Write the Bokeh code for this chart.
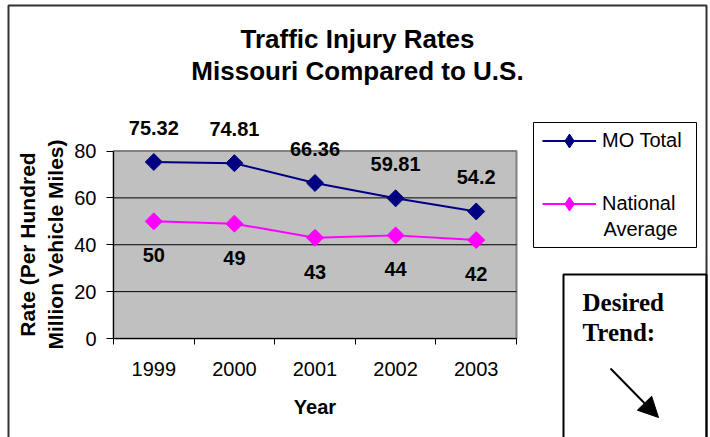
import numpy as np
from bokeh.plotting import figure
from bokeh.models import (ColumnDataSource, FixedTicker, Range1d, Legend, LegendItem,
                          LabelSet, Label, BoxAnnotation, Arrow, NormalHead)
from bokeh.core.properties import value
from bokeh.embed import file_html
from bokeh.resources import INLINE

# ---- data ----
years = ["1999", "2000", "2001", "2002", "2003"]
mo_total = [75.32, 74.81, 66.36, 59.81, 54.2]
national = [50, 49, 43, 44, 42]
y_ticks = [0, 20, 40, 60, 80]

SANS = "Liberation Sans"
SERIF = "Liberation Serif"
NAVY = "#000080"
MAGENTA = "#FF00FF"

# ---- layout geometry (canvas pixels) ----
W, H = 710, 437
PL, PR, PT, PB = 113, 516, 150.5, 338     # plot-area edges
n = len(years)
ymax = y_ticks[-1]
xs = (PR - PL) / n
ys = (PB - PT) / ymax

pos = [i + 0.5 for i in range(n)]
src = ColumnDataSource(dict(
    x=pos, mo=mo_total, nat=national,
    mo_txt=[f"{v:g}" for v in mo_total],
    nat_txt=[f"{v:g}" for v in national],
))

p = figure(width=W, height=H, output_backend="svg", toolbar_location=None,
           x_range=Range1d(-PL / xs, (W - PL) / xs),
           y_range=Range1d(-(H - PB) / ys, PB / ys),
           min_border=0, background_fill_color="white", border_fill_color="white",
           outline_line_color=None)

# plot area background
p.add_layout(BoxAnnotation(left=0, right=n, bottom=0, top=ymax, level="image",
                           fill_color="#C0C0C0", fill_alpha=1,
                           line_color="#808080", line_alpha=1, line_width=2))
p.xgrid.visible = False
p.ygrid.visible = False
grid_y = y_ticks[1:-1]
p.segment(x0=[0] * len(grid_y), x1=[n] * len(grid_y), y0=grid_y, y1=grid_y,
          line_color="black", line_width=1)

# x axis: labels at category centres, tick marks between categories
xa = p.xaxis[0]
xa.fixed_location = 0
xa.bounds = (0, n)
xa.ticker = FixedTicker(ticks=pos, minor_ticks=list(range(n + 1)))
xa.major_label_overrides = {pp: y for pp, y in zip(pos, years)}
xa.major_tick_out = 0
xa.major_tick_in = 0
xa.minor_tick_out = 6
xa.minor_tick_in = 0
xa.minor_tick_line_color = "black"
xa.axis_line_color = "black"
xa.major_label_text_font = SANS
xa.major_label_text_font_size = "20px"
xa.major_label_text_color = "black"
xa.major_label_standoff = 17
xa.axis_label = "Year"
xa.axis_label_text_font = SANS
xa.axis_label_text_font_size = "20px"
xa.axis_label_text_font_style = "bold"
xa.axis_label_text_color = "black"
xa.axis_label_standoff = 17

ya = p.yaxis[0]
ya.fixed_location = 0
ya.bounds = (0, ymax)
ya.ticker = FixedTicker(ticks=y_ticks)
ya.major_tick_out = 7
ya.major_tick_in = 0
ya.minor_tick_out = 0
ya.minor_tick_in = 0
ya.major_tick_line_color = "black"
ya.axis_line_color = "black"
ya.major_label_text_font = SANS
ya.major_label_text_font_size = "20px"
ya.major_label_text_color = "black"
ya.major_label_standoff = 10

# series
l1 = p.line("x", "mo", source=src, line_color=NAVY, line_width=2)
p.scatter("x", "mo", source=src, marker="square", angle=np.pi / 4, size=12,
          fill_color=NAVY, line_color=NAVY)
l2 = p.line("x", "nat", source=src, line_color=MAGENTA, line_width=2)
p.scatter("x", "nat", source=src, marker="square", angle=np.pi / 4, size=12,
          fill_color=MAGENTA, line_color=MAGENTA)
# legend-only diamond swatches (hidden in the plot)
d1 = p.scatter("x", "mo", source=src, marker="diamond", size=14,
               fill_color=NAVY, line_color=NAVY, visible=False)
d2 = p.scatter("x", "nat", source=src, marker="diamond", size=14,
               fill_color=MAGENTA, line_color=MAGENTA, visible=False)

# data labels
p.add_layout(LabelSet(x="x", y="mo", text="mo_txt", source=src, y_offset=34,
                      text_align="center", text_baseline="middle",
                      text_font=value(SANS), text_font_size="20px",
                      text_font_style="bold", text_color="black"))
p.add_layout(LabelSet(x="x", y="nat", text="nat_txt", source=src, y_offset=-34,
                      text_align="center", text_baseline="middle",
                      text_font=value(SANS), text_font_size="20px",
                      text_font_style="bold", text_color="black"))

# legend frame, then legend
p.add_layout(BoxAnnotation(left=533, right=696, top=122, bottom=247,
                           left_units="canvas", right_units="canvas",
                           top_units="canvas", bottom_units="canvas",
                           fill_color="white", fill_alpha=1,
                           line_color="black", line_alpha=1, line_width=1))
legend = Legend(items=[LegendItem(label="MO Total", renderers=[l1, d1]),
                       LegendItem(label="National", renderers=[l2, d2])],
                location=(542, H - 220.5), border_line_color=None,
                background_fill_alpha=0,
                padding=10, spacing=28, margin=0, glyph_width=54, glyph_height=35,
                label_standoff=6, label_text_font=SANS, label_text_font_size="20px",
                label_text_color="black")
p.add_layout(legend)

# texts (canvas pixels)
def txt(x, y, t, size, font=SANS, angle=0.0, align="center", style="bold"):
    p.add_layout(Label(x=x, y=y, x_units="canvas", y_units="canvas", text=t,
                       text_align=align, text_baseline="middle", angle=angle,
                       text_font=font, text_font_size=size,
                       text_font_style=style, text_color="black"))

txt(603, 228, "Average", "20px", align="left", style="normal")
txt(357, 38, "Traffic Injury Rates", "26px")
txt(357, 70, "Missouri Compared to U.S.", "26px")
txt(27, 244, "Rate (Per Hundred", "21px", angle=np.pi / 2)
txt(55, 244, "Million Vehicle Miles)", "21px", angle=np.pi / 2)

# outer border and "Desired Trend" box
p.add_layout(BoxAnnotation(left=8, right=706, top=5, bottom=460,
                           left_units="canvas", right_units="canvas",
                           top_units="canvas", bottom_units="canvas",
                           fill_alpha=0, line_color="#333333", line_alpha=1, line_width=2))
p.add_layout(BoxAnnotation(left=563, right=706, top=274, bottom=460,
                           left_units="canvas", right_units="canvas",
                           top_units="canvas", bottom_units="canvas",
                           fill_alpha=0, line_color="black", line_alpha=1, line_width=2))
txt(582, 302, "Desired", "25px", font=SERIF, align="left")
txt(582, 332, "Trend:", "25px", font=SERIF, align="left")
p.add_layout(Arrow(x_start=610, y_start=368, x_end=658, y_end=417,
                   start_units="canvas", end_units="canvas",
                   line_color="black", line_width=2,
                   end=NormalHead(size=20, fill_color="black", line_color="black")))

open("out.html", "w").write(file_html(p, INLINE))
